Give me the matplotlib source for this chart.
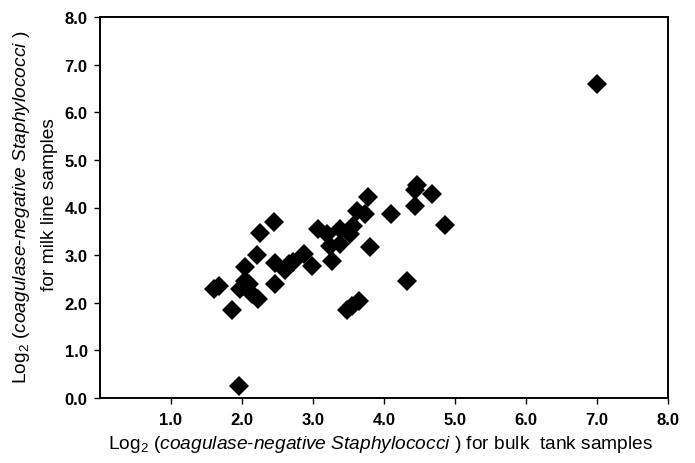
import matplotlib
matplotlib.use("Agg")
import matplotlib.pyplot as plt

plt.rcParams['font.family'] = ['Liberation Sans', 'DejaVu Sans']
plt.rcParams['mathtext.fontset'] = 'custom'
plt.rcParams['mathtext.rm'] = 'Liberation Sans'
plt.rcParams['mathtext.it'] = 'Liberation Sans:italic'

# Log2 CNS counts: bulk tank (x) vs milk line (y)
bulk_tank = [1.60, 1.68, 1.86, 1.96, 1.97, 2.04, 2.04, 2.10, 2.14, 2.23,
             2.21, 2.26, 2.45, 2.46, 2.46, 2.60, 2.66, 2.72, 2.88, 2.99,
             3.07, 3.20, 3.38, 3.24, 3.38, 3.27, 3.52, 3.56, 3.62, 3.73,
             3.78, 3.80, 3.48, 3.55, 3.65, 4.10, 4.32, 4.46, 4.44, 4.68,
             4.44, 4.86, 7.00]
milk_line = [2.28, 2.36, 1.84, 0.25, 2.29, 2.46, 2.75, 2.40, 2.18, 2.08,
             3.00, 3.46, 3.70, 2.40, 2.84, 2.68, 2.82, 2.86, 3.03, 2.77,
             3.55, 3.45, 3.55, 3.20, 3.23, 2.88, 3.45, 3.61, 3.93, 3.87,
             4.22, 3.17, 1.84, 1.93, 2.03, 3.87, 2.45, 4.48, 4.36, 4.28,
             4.04, 3.64, 6.60]

x_ticks = [1, 2, 3, 4, 5, 6, 7, 8]
y_ticks = [0, 1, 2, 3, 4, 5, 6, 7, 8]

fig = plt.figure(figsize=(6.95, 4.64), dpi=100)
ax = fig.add_axes([100/695, 1-399/464, 568/695, 381/464])

ax.plot(bulk_tank, milk_line, linestyle='none', marker='D', markersize=10.5,
        color='black', markeredgewidth=0)

ax.set_xlim(0, 8)
ax.set_ylim(0, 8)
ax.set_xticks(x_ticks)
ax.set_xticklabels([f"{v:.1f}" for v in x_ticks])
ax.set_yticks(y_ticks)
ax.set_yticklabels([f"{v:.1f}" for v in y_ticks])
ax.tick_params(direction='out', length=4, width=1, labelsize=12, colors='black')
ax.tick_params(axis='x', pad=6)
ax.tick_params(axis='y', pad=5)
for lab in ax.get_xticklabels() + ax.get_yticklabels():
    lab.set_fontweight('bold')
for s in ax.spines.values():
    s.set_linewidth(1.4)

fs = 13.8
fig.text(381/695, 1-445/464,
         r'Log$_2$ ($\mathit{coagulase}$-$\mathit{negative\ Staphylococci}$ ) for bulk  tank samples',
         ha='center', va='center', fontsize=fs)
fig.text(22/695, 1-207/464,
         r'Log$_2$ ($\mathit{coagulase}$-$\mathit{negative\ Staphylococci}$ )',
         ha='center', va='center', rotation=90, fontsize=fs)
fig.text(50/695, 1-205/464, 'for milk line samples',
         ha='center', va='center', rotation=90, fontsize=fs)

fig.savefig('out.png', dpi=100)
